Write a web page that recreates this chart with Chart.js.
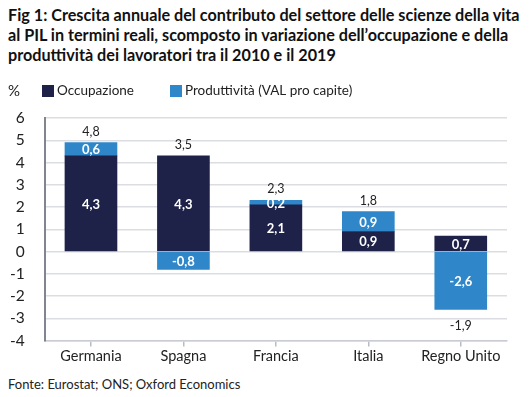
<!DOCTYPE html>
<html>
<head>
<meta charset="utf-8">
<script src="https://cdn.jsdelivr.net/npm/chart.js@4"></script>
<style>
  body { margin: 0; width: 530px; height: 397px; background: #fff; font-family: Lato, "Open Sans", sans-serif; color: #1a1a1a; position: relative; overflow: hidden; }
  #title { position: absolute; left: 8px; top: 5px; width: 515px; font-size: 16.2px; font-weight: bold; line-height: 20px; color: #111; }
  #wrap { position: absolute; left: 0; top: 78px; width: 530px; height: 288px; }
  #source { position: absolute; left: 8px; top: 376px; font-size: 13px; color: #222; }
</style>
</head>
<body>
<div id="title">Fig 1: Crescita annuale del contributo del settore delle scienze della vita al PIL in termini reali, scomposto in variazione dell’occupazione e della produttività dei lavoratori tra il 2010 e il 2019</div>
<div id="wrap"><canvas id="chart"></canvas></div>
<div id="source">Fonte: Eurostat; ONS; Oxford Economics</div>
<script>
const countries = ["Germania", "Spagna", "Francia", "Italia", "Regno Unito"]
const occupazione = [4.3, 4.3, 2.1, 0.9, 0.7]
const produttivita = [0.6, -0.8, 0.2, 0.9, -2.6]
const totali = [4.8, 3.5, 2.3, 1.8, -1.9]
const yTicks = [6, 5, 4, 3, 2, 1, 0, -1, -2, -3, -4]

const navy = "#1e2148"
const blue = "#2f87c9"

function fmt(v) {
  return v.toFixed(1).replace(".", ",")
}

const labelsPlugin = {
  id: "barLabels",
  afterDatasetsDraw(chart) {
    const ctx = chart.ctx
    const y = chart.scales.y
    ctx.save()
    ctx.textAlign = "center"
    ctx.textBaseline = "middle"
    chart.data.datasets.forEach((ds, di) => {
      chart.getDatasetMeta(di).data.forEach((bar, i) => {
        ctx.fillStyle = "#fff"
        ctx.font = "bold 13px Lato, sans-serif"
        ctx.fillText(fmt(ds.data[i]), bar.x, (bar.y + bar.base) / 2 + 1)
      })
    })
    // totals above / below the stack
    ctx.fillStyle = "#222"
    ctx.font = "12.5px Lato, sans-serif"
    const meta = chart.getDatasetMeta(0)
    totali.forEach((t, i) => {
      let pos = 0, neg = 0
      chart.data.datasets.forEach(ds => {
        const v = ds.data[i]
        if (v >= 0) pos += v; else neg += v
      })
      const x = meta.data[i].x
      if (t >= 0) ctx.fillText(fmt(t), x, y.getPixelForValue(pos) - 11)
      else ctx.fillText(fmt(t), x, y.getPixelForValue(neg) + 17)
    })
    // "%" and legend
    ctx.textAlign = "left"
    ctx.font = "15px Lato, sans-serif"
    ctx.fillText("%", 8, 13)
    ctx.font = "13.5px Lato, sans-serif"
    chart.data.datasets.forEach((ds, di) => {
      const lx = [42, 170][di]
      ctx.fillStyle = ds.backgroundColor
      ctx.fillRect(lx, 7, 12, 12)
      ctx.fillStyle = "#222"
      ctx.fillText(ds.label, lx + 15, 13)
    })
    ctx.restore()
  }
}

new Chart(document.getElementById("chart"), {
  type: "bar",
  data: {
    labels: countries,
    datasets: [
      { label: "Occupazione", data: occupazione, backgroundColor: navy },
      { label: "Produttività (VAL pro capite)", data: produttivita, backgroundColor: blue }
    ]
  },
  options: {
    responsive: true,
    maintainAspectRatio: false,
    animation: false,
    layout: { padding: { left: 4, right: 23, top: 40, bottom: 0 } },
    plugins: {
      tooltip: { enabled: false },
      legend: { display: false }
    },
    datasets: {
      bar: { barThickness: 52 }
    },
    scales: {
      x: {
        stacked: true,
        grid: { display: true, drawOnChartArea: false, offset: false, tickLength: 6, color: "#b9bcc4", lineWidth: 1.5 },
        border: { color: "#c9ccd2", width: 1.5 },
        ticks: { color: "#222", font: { family: "Lato", size: 14.5 }, padding: 1 }
      },
      y: {
        stacked: true,
        min: -4,
        max: 6,
        afterBuildTicks(axis) {
          axis.ticks = yTicks.map(v => ({ value: v }))
        },
        grid: { color: "#dcdde2", lineWidth: 1.5, drawTicks: true, tickLength: 14, tickColor: "rgba(0,0,0,0)" },
        border: { color: "#80858f", width: 2 },
        ticks: {
          autoSkip: false,
          color: "#222",
          font: { family: "Lato", size: 15.5 },
          padding: 6,
          callback: v => String(v)
        }
      }
    }
  },
  plugins: [labelsPlugin]
})
</script>
</body>
</html>
